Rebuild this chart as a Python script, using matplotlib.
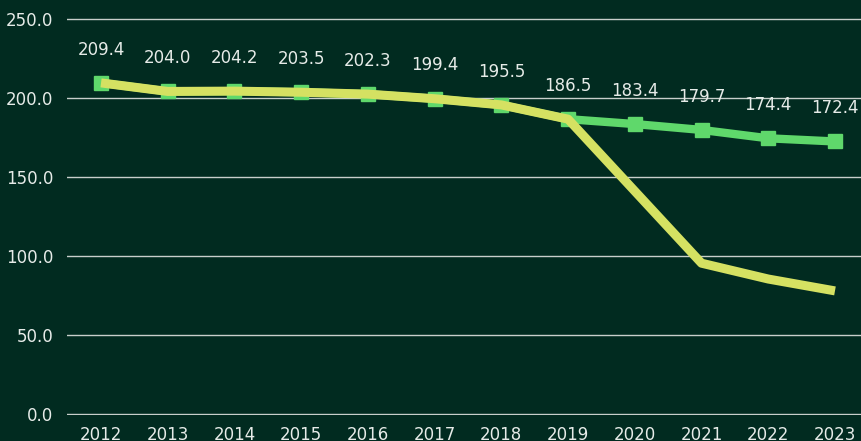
import numpy as np
import matplotlib.pyplot as plt

# dados
anos = [2012, 2013, 2014, 2015, 2016, 2017, 2018, 2019, 2020, 2021, 2022, 2023]
serie_verde = [209.4, 204.0, 204.2, 203.5, 202.3, 199.4, 195.5, 186.5, 183.4, 179.7, 174.4, 172.4]
serie_amarela = [209.4, 204.0, 204.2, 203.5, 202.3, 199.4, 195.5, 186.5, 141.0, 95.5, 85.5, 78.0]

fundo = '#012b20'
verde = '#5fd86b'
amarela = '#d5e162'
texto = '#e6ebe8'

fig = plt.figure(figsize=(8.61, 4.41), dpi=100, facecolor=fundo)
ax = fig.add_axes([67/861, 1 - 415/441, 1 - 67/861, 397/441])
ax.set_facecolor(fundo)

ax.plot(anos, serie_verde, color=verde, lw=6, marker='s', ms=10, zorder=3)
ax.plot(anos, serie_amarela, color=amarela, lw=6.5, solid_capstyle='butt', zorder=4)

for a, v in zip(anos, serie_verde):
    ax.annotate(f'{v:.1f}', (a, v), xytext=(0, 24), textcoords='offset points',
                ha='center', va='center', color=texto, fontsize=12)

ax.set_xlim(2011.49, 2023.39)
ax.set_ylim(-0.4, 250.4)
ax.set_yticks(np.arange(0, 251, 50))
ax.set_yticklabels([f'{v:.1f}' for v in np.arange(0, 251, 50)])
ax.set_xticks(anos)
ax.set_xticklabels([str(a) for a in anos])
ax.tick_params(colors=texto, labelsize=12, length=0)
ax.tick_params(axis='x', pad=8)
ax.tick_params(axis='y', pad=10)
ax.grid(axis='y', color='#c8cfcb', lw=1)
ax.set_axisbelow(True)
for s in ax.spines.values():
    s.set_visible(False)

plt.savefig('out.png', dpi=100, facecolor=fundo)
